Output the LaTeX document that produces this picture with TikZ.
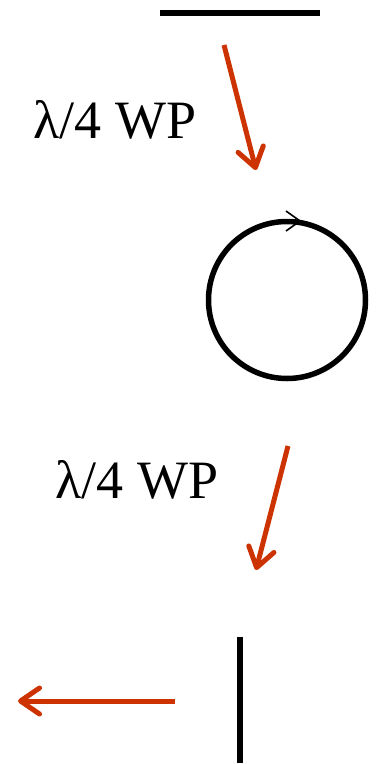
\documentclass[tikz,border=0pt]{standalone}
\usepackage{fontspec}
\setmainfont{Liberation Serif}
\usepackage{tikz}
\usetikzlibrary{arrows.meta,positioning}
\definecolor{wpred}{RGB}{204,51,0}
\tikzset{
  pol/.style={line width=5.5pt,black},
  beam/.style={line width=5pt,wpred,-{Straight Barb[length=19pt,width=26pt,round]}},
  wplabel/.style={anchor=base,inner sep=0pt,font=\fontsize{54}{60}\selectfont}
}

\begin{document}
\begin{tikzpicture}[x=1pt,y=-1pt]
\useasboundingbox (0,0) rectangle (376,764);
%\draw[help lines] (0,0) grid[step=50] (376,764);
% linear in
\coordinate (linL) at (160,13);
\coordinate (linR) at (320,13);
\draw[pol,line cap=butt] (linL)--(linR);
% first plate
\coordinate (b1s) at (224,45);
\coordinate (b1e) at (256,170);
\draw[beam] (b1s)--(b1e);
\node[wplabel] (wp1) at (115,138) {λ/4 WP};
% circular
\node[pol,draw,circle,minimum size=157pt,inner sep=0pt] (circ) at (287,300) {};
\coordinate (tipC) at (300,221);
\draw[line width=1.6pt] (286,211)--(tipC)--(286,231);
% second plate
\coordinate (b2s) at (288,446);
\coordinate (b2e) at (256,570);
\draw[beam] (b2s)--(b2e);
\node[wplabel] (wp2) at (137,498) {λ/4 WP};
% linear out
\coordinate (linT) at (240,637);
\coordinate (linB) at (240,763);
\draw[pol,line cap=butt] (linT)--(linB);
\coordinate (b3s) at (175,701);
\coordinate (b3e) at (18,701);
\draw[beam] (b3s)--(b3e);
\end{tikzpicture}
\end{document}
